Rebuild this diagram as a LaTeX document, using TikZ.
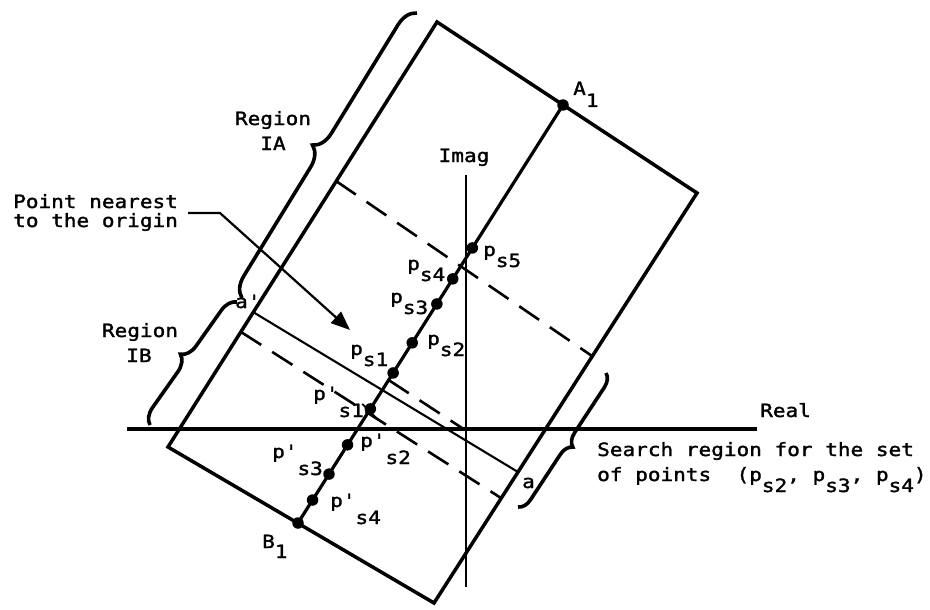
\documentclass[tikz,border=0pt]{standalone}
\usepackage{fontspec}
\newfontfamily\lblfont[FakeStretch=1.15,FakeBold=1.6]{DejaVu Sans Mono}
\usetikzlibrary{decorations.pathreplacing,arrows.meta,calc}
\newcommand\lowsub[2][11pt]{\raisebox{-#1}{#2}}
\begin{document}
\begin{tikzpicture}[x=1pt,y=-1pt,
  lbl/.style={font=\lblfont\fontsize{18.3}{20}\selectfont, inner sep=0pt, anchor=base west},
  lblc/.style={lbl, anchor=base},
  rectline/.style={line width=3.5pt},
  axisline/.style={line width=4pt},
  thinaxis/.style={line width=1.4pt},
  cline/.style={line width=3.2pt},
  dashline/.style={line width=2.6pt, dash pattern=on 24pt off 13pt},
  solidcut/.style={line width=2.1pt},
  tickline/.style={line width=1.8pt},
  bracestyle/.style={line width=3.6pt, decorate, decoration={brace, amplitude=#1}},
  dotnode/.style={circle, fill=black, inner sep=0pt, minimum size=11.5pt},
  pointer/.style={line width=2.2pt, -{Triangle[length=19pt,width=15pt]}},
]
\useasboundingbox (0,0) rectangle (930,610);

% rectangle corners
\coordinate (T) at (437,22);
\coordinate (R) at (697,193);
\coordinate (Bc) at (434,603);
\coordinate (L) at (168,447);
\draw[rectline] (T) -- (R) -- (Bc) -- (L) -- cycle;

% axes
\coordinate (reL) at (127,429);
\coordinate (reR) at (757,429);
\draw[axisline] (reL) -- (reR);
\node[lblc] (imag) at (464,162) {Imag};
\coordinate (imT) at (466,175);
\coordinate (imB) at (466,587);
\draw[thinaxis] (imT) -- (imB);
\node[lbl] (real) at (760,417) {Real};

% cut lines
\coordinate (dU1) at (336,181);
\coordinate (dU2) at (592,356);
\coordinate (dL1) at (241,332);
\coordinate (dL2) at (501,498);
\coordinate (ap) at (253,312);
\coordinate (aa) at (518,472);
\draw[dashline] (dU1) -- (dU2);
\draw[dashline] (dL1) -- (dL2);
\draw[solidcut] (ap) -- (aa);

% centre line and points
\node[dotnode] (A1) at (563,105) {};
\node[dotnode] (B1) at (298,523) {};
\draw[cline] (A1.center) -- (B1.center);
\node[dotnode] (ps5) at ($(A1)!0.342!(B1)$) {};
\node[dotnode] (ps4) at ($(A1)!0.416!(B1)$) {};
\node[dotnode] (ps3) at ($(A1)!0.476!(B1)$) {};
\node[dotnode] (ps2) at ($(A1)!0.569!(B1)$) {};
\node[dotnode] (ps1) at ($(A1)!0.641!(B1)$) {};
\node[dotnode] (qs1) at ($(A1)!0.727!(B1)$) {};
\node[dotnode] (qs2) at ($(A1)!0.813!(B1)$) {};
\node[dotnode] (qs3) at ($(A1)!0.883!(B1)$) {};
\node[dotnode] (qs4) at ($(A1)!0.945!(B1)$) {};

% short dashed line from the centre line
\coordinate (dS2) at (462,428);
\draw[dashline] ($(A1)!0.658!(B1)$) -- (dS2);
% tick through p's1
\draw[tickline] ($(qs1)+(-8,-5)$) -- ($(qs1)+(8,11)$);

% point labels
\node[lbl] (lA1) at (573,95) {A\lowsub[12pt]{1}};
\node[lbl] (lB1) at (262,548) {B\lowsub[10pt]{1}};
\node[lbl] (lps5) at (483,256) {p\lowsub{s5}};
\node[lbl] (lps4) at (407,270) {p\lowsub{s4}};
\node[lbl] (lps3) at (390,303) {p\lowsub{s3}};
\node[lbl] (lps2) at (427,345) {p\lowsub{s2}};
\node[lbl] (lps1) at (350,355) {p\lowsub{s1}};
\node[lbl] (lqs1) at (313,400) {p'\lowsub[17pt]{s1}};
\node[lbl] (lqs2) at (360,447) {p'\lowsub[17pt]{s2}};
\node[lbl] (lqs3) at (272,458) {p'\lowsub[17pt]{s3}};
\node[lbl] (lqs4) at (330,507) {p'\lowsub[17pt]{s4}};
\node[lbl] (lap) at (235,308) {a'};
\node[lbl] (laa) at (522,488) {a};

% region labels
\node[lblc] (ria1) at (273,125) {Region};
\node[lblc] (ria2) at (273,150) {IA};
\node[lblc] (rib1) at (140,337) {Region};
\node[lblc] (rib2) at (139,362) {IB};
\node[lbl] (pn1) at (13,208) {Point nearest};
\node[lbl] (pn2) at (13,227) {to the origin};
\node[lbl] (sr1) at (597,456) {Search region for the set};
\node[lbl] (sr2) at (597,481) {of points~~(p\lowsub{s2}, p\lowsub{s3}, p\lowsub{s4})};

% braces
\coordinate (bIAa) at (242,298);
\coordinate (bIAb) at (417,13);
\coordinate (bIBa) at (150,425);
\coordinate (bIBb) at (237,302);
\coordinate (bSa) at (606,373);
\coordinate (bSb) at (518,507);
\draw[bracestyle=20pt] (bIAa) -- (bIAb);
\draw[bracestyle=16pt] (bIBa) -- (bIBb);
\draw[bracestyle=13pt] (bSa) -- (bSb);

% pointer
\coordinate (arrS) at ($(pn1.base east)+(10,5)$);
\coordinate (arrK) at (220,213);
\coordinate (arrT) at (350,330);
\draw[pointer] (arrS) -- (arrK) -- (arrT);
\end{tikzpicture}
\end{document}
